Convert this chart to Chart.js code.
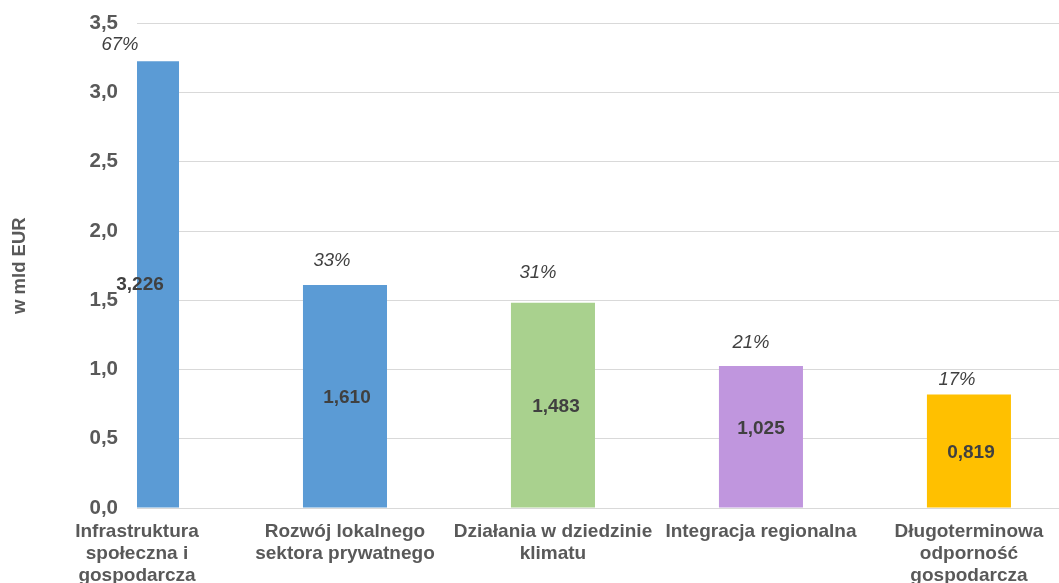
<!DOCTYPE html>
<html lang="pl">
<head>
<meta charset="utf-8">
<title>w mld EUR</title>
<script src="https://cdn.jsdelivr.net/npm/chart.js@4/dist/chart.umd.min.js"></script>
<style>
  html, body { margin: 0; padding: 0; background: #fff; overflow: hidden; }
  #wrap { width: 1059px; height: 591px; margin-top: -8px; position: relative; }
</style>
</head>
<body>
<div id="wrap"><canvas id="fundChart"></canvas></div>
<script>
const categories = [
  ['Infrastruktura', 'społeczna i', 'gospodarcza'],
  ['Rozwój lokalnego', 'sektora prywatnego'],
  ['Działania w dziedzinie', 'klimatu'],
  ['Integracja regionalna'],
  ['Długoterminowa', 'odporność', 'gospodarcza'],
];
const values = [3.226, 1.610, 1.483, 1.025, 0.819];
const shares = [67, 33, 31, 21, 17];
const yTicks = [0, 0.5, 1, 1.5, 2, 2.5, 3, 3.5];

const barColors = ['#5B9BD5', '#5B9BD5', '#A9D18E', '#C096DE', '#FFC000'];
// label nudges (px) copied from the original layout
const shareOffsets = [[-17, -16], [-13, -24], [-15, -30], [-10, -23], [-12, -15]];
const valueOffsets = [[3, 0], [2, 1], [3, 2], [0, -8], [2, 2]];

const fmt = (v, d) => v.toFixed(d).replace('.', ',');

const barLabels = {
  id: 'barLabels',
  afterDatasetsDraw(chart) {
    const { ctx } = chart;
    const meta = chart.getDatasetMeta(0);
    ctx.save();
    ctx.textAlign = 'center';
    ctx.textBaseline = 'middle';
    meta.data.forEach((bar, i) => {
      const top = bar.y;
      const mid = (bar.y + bar.base) / 2;
      ctx.fillStyle = '#404040';
      ctx.font = 'bold 19px "Liberation Sans", Arial, sans-serif';
      ctx.fillText(fmt(values[i], 3), bar.x + valueOffsets[i][0], mid + valueOffsets[i][1]);
      ctx.font = 'italic 18.5px "Liberation Sans", Arial, sans-serif';
      ctx.fillText(`${shares[i]}%`, bar.x + shareOffsets[i][0], top + shareOffsets[i][1]);
    });
    ctx.restore();
  },
};

new Chart(document.getElementById('fundChart'), {
  type: 'bar',
  data: {
    datasets: [
      {
        data: values.map((v, i) => ({ x: i, y: v })),
        backgroundColor: barColors,
        categoryPercentage: 1,
        barPercentage: 0.404,
        clip: 0,
      },
    ],
  },
  options: {
    responsive: true,
    maintainAspectRatio: false,
    animation: false,
    layout: { padding: { top: 15, right: 0, bottom: 0, left: 0 } },
    plugins: {
      legend: { display: false },
      tooltip: { enabled: false },
    },
    scales: {
      x: {
        type: 'linear',
        offset: false,
        min: 0,
        max: 4.433,
        grid: { display: false, drawTicks: false },
        border: { display: false },
        ticks: {
          stepSize: 1,
          includeBounds: false,
          autoSkip: false,
          maxRotation: 0,
          padding: 13,
          color: '#595959',
          font: { family: '"Liberation Sans", Arial, sans-serif', size: 19, weight: 'bold', lineHeight: 1.15 },
          callback: (value) => (Number.isInteger(value) && categories[value] ? categories[value] : ''),
        },
        afterFit: (scale) => { scale.height = 75; },
      },
      y: {
        min: 0,
        max: 3.5,
        grid: { color: '#D9D9D9', lineWidth: 1, drawTicks: false },
        border: { display: false },
        afterBuildTicks: (scale) => { scale.ticks = yTicks.map((v) => ({ value: v })); },
        ticks: {
          padding: 19,
          color: '#595959',
          font: { family: '"Liberation Sans", Arial, sans-serif', size: 20.5, weight: 'bold' },
          callback: (value) => fmt(value, 1),
        },
        title: {
          display: true,
          text: 'w mld EUR',
          color: '#595959',
          padding: { top: 9, bottom: 0 },
          font: { family: '"Liberation Sans", Arial, sans-serif', size: 18.5, weight: 'bold' },
        },
        afterFit: (scale) => { scale.width = 137; },
      },
    },
  },
  plugins: [barLabels],
});
</script>
</body>
</html>
